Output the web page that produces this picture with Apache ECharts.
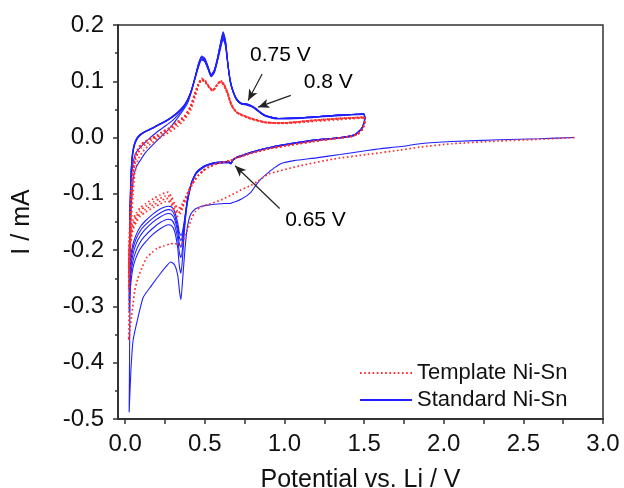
<!DOCTYPE html>
<html>
<head>
<meta charset="utf-8">
<script src="https://cdn.jsdelivr.net/npm/echarts@6/dist/echarts.min.js"></script>
<style>
  html, body { margin: 0; padding: 0; background: #fff; }
  #chart { width: 624px; height: 488px; }
</style>
</head>
<body>
<div id="chart"></div>
<script>
// Cyclic voltammograms, current (mA) vs potential (V vs Li/Li+)

const xMajorTicks = [0, 0.5, 1.0, 1.5, 2.0, 2.5, 3.0];
const xAllTicks = [0, 0.25, 0.5, 0.75, 1.0, 1.25, 1.5, 1.75, 2.0, 2.25, 2.5, 2.75, 3.0];

// Standard Ni-Sn: first scan from open circuit down to 0.02 V, then back to 1.5 V
const standardCycle1 = [
  [2.82,0.000],[2.60,-0.002],[2.35,-0.004],[2.05,-0.007],[1.85,-0.011],[1.73,-0.016],[1.60,-0.020],
  [1.52,-0.023],[1.35,-0.030],[1.20,-0.036],[1.06,-0.041],[0.98,-0.046],[0.94,-0.053],[0.90,-0.062],
  [0.855,-0.073],[0.82,-0.085],[0.79,-0.097],[0.76,-0.104],[0.73,-0.109],[0.70,-0.113],[0.68,-0.115],
  [0.66,-0.117],[0.62,-0.117],[0.58,-0.118],[0.52,-0.120],[0.48,-0.122],[0.44,-0.127],[0.41,-0.137],
  [0.39,-0.160],[0.375,-0.200],[0.36,-0.255],[0.35,-0.288],[0.342,-0.275],[0.33,-0.245],[0.31,-0.226],
  [0.285,-0.221],[0.26,-0.228],[0.22,-0.242],[0.165,-0.263],[0.113,-0.284],[0.082,-0.318],[0.05,-0.360],
  [0.036,-0.414],[0.025,-0.488],
  [0.03,-0.300],[0.035,-0.150],[0.05,-0.075],[0.07,-0.052],[0.094,-0.041],[0.13,-0.026],[0.176,-0.012],
  [0.23,0.003],[0.28,0.017],[0.33,0.035],[0.39,0.060],[0.42,0.085],[0.445,0.112],[0.465,0.133],
  [0.48,0.140],[0.50,0.136],[0.52,0.122],[0.54,0.108],[0.56,0.116],[0.58,0.138],[0.60,0.166],
  [0.615,0.182],[0.63,0.168],[0.645,0.130],[0.66,0.100],[0.68,0.079],[0.70,0.067],[0.73,0.059],
  [0.76,0.058],[0.79,0.055],[0.82,0.050],[0.85,0.043],[0.88,0.038],[0.96,0.033],[1.10,0.034],
  [1.20,0.036],[1.35,0.039],[1.50,0.041]
];

// Standard Ni-Sn, later cycles: 1.5 V -> 0.02 V -> 1.5 V
const standardCycle2 = [
  [1.50,0.041],[1.505,0.034],[1.49,0.018],[1.46,0.008],[1.43,0.003],[1.37,0.000],[1.28,-0.003],
  [1.20,-0.005],[1.10,-0.009],[0.99,-0.014],[0.90,-0.019],[0.84,-0.023],[0.79,-0.027],[0.74,-0.032],
  [0.70,-0.036],[0.675,-0.041],[0.665,-0.047],[0.65,-0.045],[0.62,-0.045],[0.58,-0.046],[0.54,-0.048],
  [0.50,-0.052],[0.46,-0.060],[0.44,-0.067],[0.42,-0.080],[0.405,-0.095],[0.39,-0.117],[0.38,-0.140],
  [0.37,-0.172],[0.36,-0.215],[0.35,-0.241],[0.34,-0.228],[0.33,-0.196],[0.31,-0.166],[0.29,-0.156],
  [0.27,-0.155],[0.22,-0.162],[0.17,-0.173],[0.12,-0.188],[0.094,-0.198],[0.07,-0.212],[0.05,-0.230],
  [0.035,-0.260],[0.025,-0.310],
  [0.03,-0.180],[0.036,-0.100],[0.042,-0.062],[0.05,-0.045],[0.06,-0.032],[0.075,-0.024],[0.094,-0.018],
  [0.15,-0.002],[0.20,0.010],[0.25,0.020],[0.30,0.031],[0.34,0.043],[0.375,0.056],[0.41,0.078],
  [0.437,0.104],[0.46,0.130],[0.48,0.143],[0.50,0.139],[0.52,0.125],[0.54,0.111],[0.56,0.120],
  [0.58,0.142],[0.60,0.170],[0.615,0.188],[0.63,0.172],[0.645,0.131],[0.66,0.101],[0.68,0.081],
  [0.70,0.069],[0.73,0.061],[0.76,0.060],[0.79,0.057],[0.82,0.051],[0.85,0.044],[0.88,0.039],
  [0.96,0.034],[1.10,0.035],[1.20,0.037],[1.35,0.040],[1.50,0.042]
];

const standardCycle3 = [
  [1.50,0.042],[1.505,0.035],[1.49,0.018],[1.46,0.008],[1.43,0.003],[1.37,0.000],[1.28,-0.003],
  [1.20,-0.005],[1.10,-0.009],[0.99,-0.014],[0.90,-0.019],[0.84,-0.023],[0.79,-0.027],[0.74,-0.032],
  [0.70,-0.036],[0.675,-0.041],[0.665,-0.046],[0.65,-0.044],[0.62,-0.044],[0.58,-0.045],[0.54,-0.047],
  [0.50,-0.051],[0.46,-0.059],[0.44,-0.066],[0.42,-0.079],[0.405,-0.094],[0.39,-0.115],[0.38,-0.137],
  [0.37,-0.165],[0.36,-0.197],[0.35,-0.213],[0.34,-0.204],[0.33,-0.180],[0.31,-0.155],[0.29,-0.146],
  [0.27,-0.145],[0.22,-0.151],[0.17,-0.162],[0.12,-0.176],[0.094,-0.186],[0.07,-0.200],[0.05,-0.218],
  [0.035,-0.245],[0.025,-0.290],
  [0.03,-0.150],[0.036,-0.080],[0.042,-0.046],[0.05,-0.026],[0.06,-0.013],[0.075,-0.003],[0.095,0.004],
  [0.124,0.010],[0.17,0.016],[0.207,0.022],[0.25,0.028],[0.29,0.035],[0.33,0.044],[0.375,0.058],
  [0.41,0.079],[0.437,0.106],[0.46,0.131],[0.48,0.145],[0.50,0.141],[0.52,0.127],[0.54,0.112],
  [0.56,0.120],[0.58,0.142],[0.60,0.169],[0.615,0.186],[0.63,0.171],[0.645,0.131],[0.66,0.101],
  [0.68,0.081],[0.70,0.069],[0.73,0.061],[0.76,0.060],[0.79,0.057],[0.82,0.052],[0.85,0.045],
  [0.88,0.039],[0.96,0.034],[1.10,0.035],[1.20,0.037],[1.35,0.040],[1.50,0.042]
];

const standardCycle4 = [
  [1.50,0.042],[1.505,0.035],[1.49,0.019],[1.46,0.009],[1.43,0.004],[1.37,0.001],[1.28,-0.002],
  [1.20,-0.004],[1.10,-0.008],[0.99,-0.013],[0.90,-0.018],[0.84,-0.022],[0.79,-0.026],[0.74,-0.031],
  [0.70,-0.035],[0.675,-0.040],[0.665,-0.046],[0.65,-0.043],[0.62,-0.043],[0.58,-0.044],[0.54,-0.046],
  [0.50,-0.050],[0.46,-0.058],[0.44,-0.065],[0.42,-0.078],[0.405,-0.093],[0.39,-0.113],[0.38,-0.134],
  [0.37,-0.158],[0.36,-0.182],[0.35,-0.195],[0.34,-0.188],[0.33,-0.168],[0.31,-0.145],[0.29,-0.136],
  [0.27,-0.135],[0.22,-0.141],[0.17,-0.151],[0.12,-0.165],[0.094,-0.175],[0.07,-0.188],[0.05,-0.206],
  [0.035,-0.232],[0.025,-0.270],
  [0.03,-0.140],[0.036,-0.075],[0.042,-0.043],[0.05,-0.024],[0.06,-0.011],[0.075,-0.002],[0.095,0.005],
  [0.124,0.010],[0.17,0.016],[0.207,0.022],[0.25,0.028],[0.29,0.035],[0.33,0.044],[0.375,0.058],
  [0.41,0.079],[0.437,0.105],[0.46,0.129],[0.48,0.143],[0.50,0.139],[0.52,0.125],[0.54,0.111],
  [0.56,0.119],[0.58,0.140],[0.60,0.166],[0.615,0.182],[0.63,0.168],[0.645,0.130],[0.66,0.100],
  [0.68,0.080],[0.70,0.068],[0.73,0.060],[0.76,0.059],[0.79,0.056],[0.82,0.051],[0.85,0.044],
  [0.88,0.039],[0.96,0.034],[1.10,0.035],[1.20,0.037],[1.35,0.040],[1.50,0.042]
];

const standardCycle5 = [
  [1.50,0.042],[1.505,0.035],[1.49,0.019],[1.46,0.009],[1.43,0.004],[1.37,0.001],[1.28,-0.002],
  [1.20,-0.004],[1.10,-0.008],[0.99,-0.013],[0.90,-0.018],[0.84,-0.022],[0.79,-0.026],[0.74,-0.031],
  [0.70,-0.035],[0.675,-0.040],[0.665,-0.045],[0.65,-0.043],[0.62,-0.043],[0.58,-0.044],[0.54,-0.046],
  [0.50,-0.050],[0.46,-0.058],[0.44,-0.065],[0.42,-0.077],[0.405,-0.092],[0.39,-0.112],[0.38,-0.132],
  [0.37,-0.155],[0.36,-0.174],[0.35,-0.183],[0.34,-0.177],[0.33,-0.160],[0.31,-0.138],[0.29,-0.129],
  [0.27,-0.128],[0.22,-0.134],[0.17,-0.144],[0.12,-0.157],[0.094,-0.166],[0.07,-0.179],[0.05,-0.196],
  [0.035,-0.220],[0.025,-0.250],
  [0.03,-0.130],[0.036,-0.070],[0.042,-0.040],[0.05,-0.022],[0.06,-0.010],[0.075,-0.001],[0.095,0.005],
  [0.124,0.011],[0.17,0.017],[0.207,0.023],[0.25,0.029],[0.29,0.036],[0.33,0.045],[0.375,0.059],
  [0.41,0.079],[0.437,0.104],[0.46,0.127],[0.48,0.140],[0.50,0.137],[0.52,0.123],[0.54,0.110],
  [0.56,0.117],[0.58,0.138],[0.60,0.163],[0.615,0.178],[0.63,0.165],[0.645,0.129],[0.66,0.099],
  [0.68,0.079],[0.70,0.067],[0.73,0.060],[0.76,0.059],[0.79,0.056],[0.82,0.051],[0.85,0.044],
  [0.88,0.039],[0.96,0.034],[1.10,0.035],[1.20,0.037],[1.35,0.040],[1.50,0.042]
];

const standardCycle6 = [
  [1.50,0.042],[1.505,0.035],[1.49,0.019],[1.46,0.009],[1.43,0.004],[1.37,0.001],[1.28,-0.002],
  [1.20,-0.004],[1.10,-0.008],[0.99,-0.013],[0.90,-0.018],[0.84,-0.022],[0.79,-0.026],[0.74,-0.031],
  [0.70,-0.035],[0.675,-0.040],[0.665,-0.045],[0.65,-0.043],[0.62,-0.043],[0.58,-0.044],[0.54,-0.046],
  [0.50,-0.050],[0.46,-0.058],[0.44,-0.065],[0.42,-0.077],[0.405,-0.091],[0.39,-0.111],[0.38,-0.131],
  [0.37,-0.151],[0.36,-0.167],[0.35,-0.174],[0.34,-0.169],[0.33,-0.152],[0.31,-0.131],[0.29,-0.123],
  [0.27,-0.122],[0.22,-0.127],[0.17,-0.137],[0.12,-0.150],[0.094,-0.159],[0.07,-0.172],[0.05,-0.188],
  [0.035,-0.210],[0.025,-0.240],
  [0.03,-0.125],[0.036,-0.068],[0.042,-0.038],[0.05,-0.020],[0.06,-0.009],[0.075,0.000],[0.095,0.006],
  [0.124,0.011],[0.17,0.017],[0.207,0.023],[0.25,0.029],[0.29,0.036],[0.33,0.045],[0.375,0.059],
  [0.41,0.079],[0.437,0.103],[0.46,0.125],[0.48,0.138],[0.50,0.135],[0.52,0.122],[0.54,0.109],
  [0.56,0.116],[0.58,0.136],[0.60,0.160],[0.615,0.175],[0.63,0.162],[0.645,0.128],[0.66,0.098],
  [0.68,0.079],[0.70,0.067],[0.73,0.060],[0.76,0.059],[0.79,0.056],[0.82,0.051],[0.85,0.044],
  [0.88,0.039],[0.96,0.034],[1.10,0.035],[1.20,0.037],[1.35,0.040],[1.50,0.042]
];

// Template Ni-Sn: first scan from open circuit down to 0.02 V, then back to 1.5 V
const templateCycle1 = [
  [2.82,0.000],[2.60,-0.003],[2.35,-0.006],[2.05,-0.011],[1.85,-0.017],[1.73,-0.022],[1.52,-0.030],
  [1.31,-0.038],[1.10,-0.050],[0.90,-0.065],[0.83,-0.078],[0.79,-0.085],[0.72,-0.094],[0.66,-0.103],
  [0.60,-0.111],[0.53,-0.118],[0.47,-0.124],[0.44,-0.132],[0.42,-0.142],[0.40,-0.157],[0.38,-0.172],
  [0.36,-0.186],[0.345,-0.192],[0.33,-0.190],[0.31,-0.188],[0.28,-0.189],[0.24,-0.193],[0.20,-0.197],
  [0.17,-0.204],[0.136,-0.213],[0.11,-0.228],[0.08,-0.250],[0.06,-0.272],[0.05,-0.295],[0.04,-0.318],
  [0.03,-0.343],[0.022,-0.360],
  [0.025,-0.300],[0.03,-0.220],[0.04,-0.140],[0.05,-0.100],[0.06,-0.065],[0.08,-0.040],[0.11,-0.025],
  [0.157,-0.012],[0.22,0.000],[0.28,0.010],[0.33,0.020],[0.375,0.033],[0.41,0.048],[0.437,0.070],
  [0.46,0.092],[0.48,0.102],[0.50,0.099],[0.53,0.088],[0.55,0.083],[0.575,0.092],[0.60,0.099],
  [0.62,0.092],[0.645,0.075],[0.665,0.058],[0.69,0.048],[0.72,0.041],[0.79,0.033],[0.88,0.027],
  [0.99,0.025],[1.20,0.029],[1.35,0.032],[1.50,0.035]
];

// Template Ni-Sn, later cycles
const templateCycle2 = [
  [1.50,0.035],[1.505,0.028],[1.49,0.015],[1.46,0.006],[1.42,0.002],[1.37,0.000],[1.20,-0.006],
  [1.00,-0.015],[0.90,-0.020],[0.79,-0.028],[0.70,-0.036],[0.66,-0.041],[0.58,-0.046],[0.52,-0.053],
  [0.49,-0.059],[0.46,-0.067],[0.44,-0.074],[0.42,-0.084],[0.40,-0.096],[0.38,-0.110],[0.36,-0.125],
  [0.345,-0.136],[0.33,-0.140],[0.31,-0.132],[0.29,-0.120],[0.27,-0.113],[0.25,-0.114],[0.22,-0.118],
  [0.18,-0.124],[0.13,-0.132],[0.094,-0.140],[0.07,-0.150],[0.05,-0.163],[0.04,-0.176],[0.031,-0.195],
  [0.025,-0.230],[0.022,-0.270],
  [0.025,-0.230],[0.03,-0.170],[0.04,-0.105],[0.05,-0.068],[0.065,-0.040],[0.08,-0.028],[0.10,-0.019],
  [0.13,-0.012],[0.165,-0.006],[0.20,0.000],[0.227,0.005],[0.27,0.012],[0.32,0.022],[0.375,0.036],
  [0.41,0.052],[0.437,0.075],[0.46,0.093],[0.48,0.103],[0.50,0.100],[0.53,0.088],[0.55,0.083],
  [0.575,0.092],[0.60,0.100],[0.62,0.094],[0.645,0.077],[0.665,0.059],[0.69,0.048],[0.71,0.043],
  [0.79,0.034],[0.88,0.027],[0.99,0.026],[1.20,0.031],[1.35,0.034],[1.50,0.036]
];

const templateCycle3 = [
  [1.50,0.036],[1.505,0.029],[1.49,0.015],[1.46,0.006],[1.42,0.002],[1.37,0.000],[1.20,-0.006],
  [1.00,-0.015],[0.90,-0.020],[0.79,-0.028],[0.70,-0.036],[0.66,-0.041],[0.58,-0.046],[0.52,-0.053],
  [0.49,-0.059],[0.46,-0.067],[0.44,-0.074],[0.42,-0.083],[0.40,-0.095],[0.38,-0.108],[0.36,-0.122],
  [0.345,-0.131],[0.33,-0.135],[0.31,-0.127],[0.29,-0.115],[0.27,-0.108],[0.25,-0.109],[0.22,-0.113],
  [0.18,-0.119],[0.13,-0.127],[0.094,-0.135],[0.07,-0.145],[0.05,-0.158],[0.04,-0.170],[0.031,-0.186],
  [0.025,-0.215],[0.022,-0.250],
  [0.025,-0.215],[0.03,-0.160],[0.04,-0.098],[0.05,-0.062],[0.065,-0.035],[0.08,-0.024],[0.10,-0.015],
  [0.13,-0.008],[0.165,-0.003],[0.20,0.002],[0.227,0.007],[0.27,0.014],[0.32,0.024],[0.375,0.038],
  [0.41,0.054],[0.437,0.077],[0.46,0.095],[0.48,0.105],[0.50,0.102],[0.53,0.089],[0.55,0.084],
  [0.575,0.093],[0.60,0.101],[0.62,0.095],[0.645,0.078],[0.665,0.060],[0.69,0.048],[0.71,0.043],
  [0.79,0.034],[0.88,0.027],[0.99,0.026],[1.20,0.031],[1.35,0.034],[1.50,0.036]
];

const templateCycle4 = [
  [1.50,0.036],[1.505,0.029],[1.49,0.015],[1.46,0.006],[1.42,0.002],[1.37,0.000],[1.20,-0.006],
  [1.00,-0.015],[0.90,-0.020],[0.79,-0.028],[0.70,-0.036],[0.66,-0.041],[0.58,-0.046],[0.52,-0.053],
  [0.49,-0.059],[0.46,-0.067],[0.44,-0.074],[0.42,-0.083],[0.40,-0.094],[0.38,-0.107],[0.36,-0.119],
  [0.345,-0.127],[0.33,-0.130],[0.31,-0.122],[0.29,-0.110],[0.27,-0.103],[0.25,-0.104],[0.22,-0.108],
  [0.18,-0.114],[0.13,-0.122],[0.094,-0.130],[0.07,-0.140],[0.05,-0.152],[0.04,-0.163],[0.031,-0.178],
  [0.025,-0.205],[0.022,-0.230],
  [0.025,-0.205],[0.03,-0.150],[0.04,-0.092],[0.05,-0.057],[0.065,-0.032],[0.08,-0.021],[0.10,-0.013],
  [0.13,-0.006],[0.165,-0.001],[0.20,0.004],[0.227,0.009],[0.27,0.016],[0.32,0.026],[0.375,0.039],
  [0.41,0.055],[0.437,0.078],[0.46,0.095],[0.48,0.104],[0.50,0.101],[0.53,0.089],[0.55,0.084],
  [0.575,0.093],[0.60,0.100],[0.62,0.094],[0.645,0.078],[0.665,0.060],[0.69,0.048],[0.71,0.043],
  [0.79,0.034],[0.88,0.027],[0.99,0.026],[1.20,0.031],[1.35,0.034],[1.50,0.036]
];

const templateCycle5 = [
  [1.50,0.036],[1.505,0.029],[1.49,0.015],[1.46,0.006],[1.42,0.002],[1.37,0.000],[1.20,-0.006],
  [1.00,-0.015],[0.90,-0.020],[0.79,-0.028],[0.70,-0.036],[0.66,-0.041],[0.58,-0.046],[0.52,-0.053],
  [0.49,-0.059],[0.46,-0.067],[0.44,-0.074],[0.42,-0.082],[0.40,-0.093],[0.38,-0.105],[0.36,-0.117],
  [0.345,-0.124],[0.33,-0.125],[0.31,-0.117],[0.29,-0.105],[0.27,-0.097],[0.25,-0.098],[0.22,-0.102],
  [0.18,-0.108],[0.13,-0.117],[0.094,-0.125],[0.07,-0.134],[0.05,-0.146],[0.04,-0.156],[0.031,-0.170],
  [0.025,-0.195],[0.022,-0.210],
  [0.025,-0.195],[0.03,-0.145],[0.04,-0.088],[0.05,-0.054],[0.065,-0.030],[0.08,-0.020],[0.10,-0.012],
  [0.13,-0.006],[0.165,-0.001],[0.20,0.004],[0.227,0.009],[0.27,0.016],[0.32,0.026],[0.375,0.039],
  [0.41,0.055],[0.437,0.078],[0.46,0.095],[0.48,0.104],[0.50,0.101],[0.53,0.089],[0.55,0.084],
  [0.575,0.093],[0.60,0.100],[0.62,0.094],[0.645,0.078],[0.665,0.060],[0.69,0.048],[0.71,0.043],
  [0.79,0.034],[0.88,0.027],[0.99,0.026],[1.20,0.031],[1.35,0.034],[1.50,0.036]
];

const standardCycles = [standardCycle1, standardCycle2, standardCycle3, standardCycle4, standardCycle5, standardCycle6];
const templateCycles = [templateCycle1, templateCycle2, templateCycle3, templateCycle4, templateCycle5];

// Peak annotations: label, where the text sits, arrow tail and arrow tip (data units)
const annotationLabels = ['0.75 V', '0.8 V', '0.65 V'];
const annotationTextAt = [[0.975, 0.146], [1.275, 0.098], [1.195, -0.146]];
const annotationArrowFrom = [[0.86, 0.113], [1.04, 0.075], [0.97, -0.126]];
const annotationArrowTo = [[0.772, 0.066], [0.835, 0.054], [0.69, -0.050]];

const FONT = '"Liberation Sans", Arial, Helvetica, sans-serif';
const AXIS_COLOR = '#333';

const standardStyle = { color: '#2020ff', width: 1.1, type: 'solid' };
const templateStyle = { color: '#ff2a2a', width: 1.7, type: [1.6, 2.6] };

function cycleSeries(name, data, style, z) {
  return {
    type: 'line',
    name: name,
    data: data,
    symbol: 'none',
    showSymbol: false,
    smooth: 0.2,
    silent: true,
    z: z,
    itemStyle: { color: style.color },
    lineStyle: style
  };
}

const series = [];
standardCycles.forEach(c => series.push(cycleSeries('Standard Ni-Sn', c, standardStyle, 2)));
templateCycles.forEach(c => series.push(cycleSeries('Template Ni-Sn', c, templateStyle, 3)));

// Annotation texts and arrows
series.push({
  type: 'scatter',
  name: 'annotations',
  symbolSize: 0,
  silent: true,
  z: 5,
  itemStyle: { opacity: 1 },
  data: annotationLabels.map((t, i) => ({ name: t, value: annotationTextAt[i] })),
  label: {
    show: true,
    position: 'inside',
    formatter: '{b}',
    fontFamily: FONT,
    fontSize: 21,
    color: '#000',
    opacity: 1
  },
  markLine: {
    silent: true,
    symbol: ['none', 'arrow'],
    symbolSize: [7, 11],
    label: { show: false },
    lineStyle: { color: '#222', width: 1.2, type: 'solid', opacity: 1 },
    data: annotationArrowFrom.map((p, i) => [{ coord: p }, { coord: annotationArrowTo[i] }])
  }
});

const chart = echarts.init(document.getElementById('chart'), null, { renderer: 'canvas' });
chart.setOption({
  animation: false,
  backgroundColor: '#fff',
  grid: {
    left: 118, right: 21, top: 25, bottom: 69,
    containLabel: false,
    outerBoundsMode: 'none',
    show: true, borderColor: AXIS_COLOR, borderWidth: 1.5, backgroundColor: 'transparent'
  },
  legend: {
    data: ['Template Ni-Sn', 'Standard Ni-Sn'],
    orient: 'vertical',
    left: 354, top: 357,
    itemWidth: 52, itemHeight: 14, itemGap: 5,
    selectedMode: false,
    itemStyle: { opacity: 0 },
    textStyle: { fontFamily: FONT, fontSize: 22, color: '#111' }
  },
  xAxis: {
    type: 'value', min: -0.045, max: 3.0,
    name: 'Potential vs. Li / V', nameLocation: 'middle', nameGap: 49,
    nameTextStyle: { fontFamily: FONT, fontSize: 25, color: '#111' },
    axisLine: { show: true, onZero: false, lineStyle: { color: AXIS_COLOR, width: 2 } },
    axisTick: { show: true, length: 5, customValues: xAllTicks, lineStyle: { color: AXIS_COLOR, width: 1.5 } },
    axisLabel: {
      customValues: xMajorTicks, margin: 13,
      fontFamily: FONT, fontSize: 24, color: '#111',
      formatter: v => v.toFixed(1)
    },
    splitLine: { show: false }
  },
  yAxis: {
    type: 'value', min: -0.5, max: 0.2, interval: 0.1,
    name: 'I / mA', nameLocation: 'middle', nameGap: 83,
    nameTextStyle: { fontFamily: FONT, fontSize: 25, color: '#111' },
    axisLine: { show: true, onZero: false, lineStyle: { color: AXIS_COLOR, width: 2 } },
    axisTick: { show: true, length: 5, lineStyle: { color: AXIS_COLOR, width: 1.5 } },
    minorTick: { show: true, splitNumber: 2, length: 3, lineStyle: { color: AXIS_COLOR, width: 1.5 } },
    axisLabel: {
      margin: 14, fontFamily: FONT, fontSize: 24, color: '#111',
      formatter: v => v.toFixed(1)
    },
    splitLine: { show: false },
    minorSplitLine: { show: false }
  },
  series: series
});
</script>
</body>
</html>
